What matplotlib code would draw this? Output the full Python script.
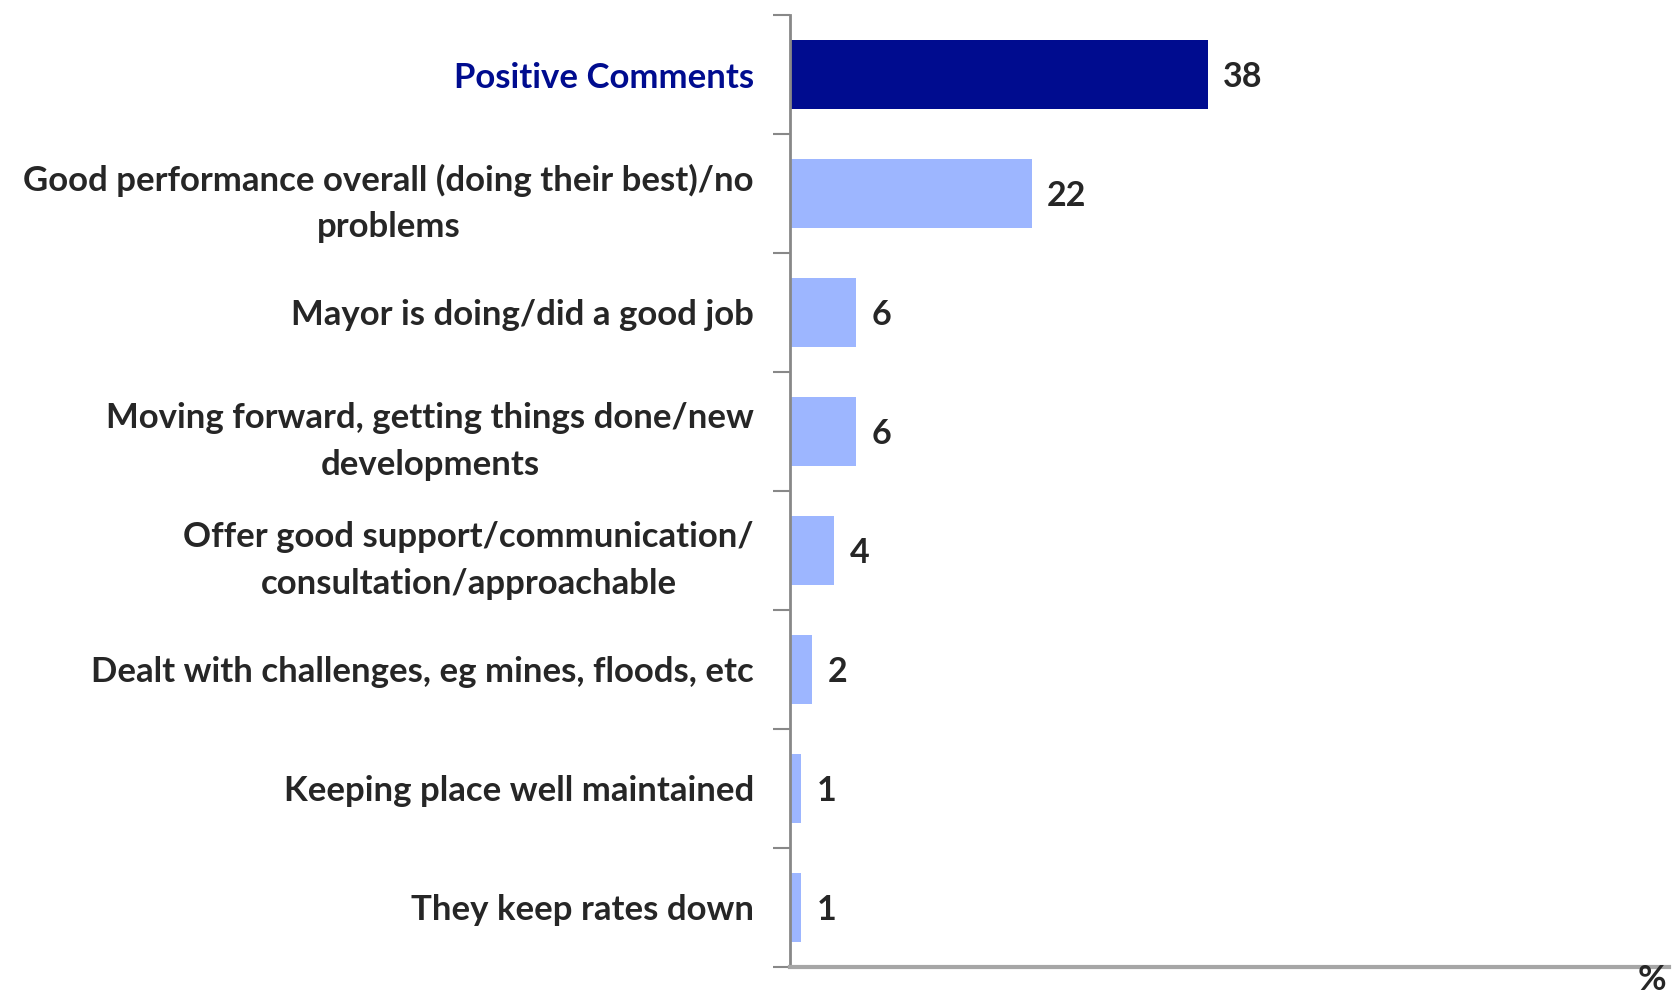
import matplotlib.pyplot as plt
import numpy as np

plt.rcParams["font.family"] = ["Lato", "DejaVu Sans"]
plt.rcParams["font.weight"] = "bold"

categories = [
    "Positive Comments",
    "Good performance overall (doing their best)/no\nproblems",
    "Mayor is doing/did a good job",
    "Moving forward, getting things done/new\ndevelopments",
    "Offer good support/communication/\nconsultation/approachable",
    "Dealt with challenges, eg mines, floods, etc",
    "Keeping place well maintained",
    "They keep rates down",
]
values = [38, 22, 6, 6, 4, 2, 1, 1]

navy = "#000C8F"
light = "#9DB6FF"
text_col = "#262626"
colors = [navy] + [light] * (len(values) - 1)

fig = plt.figure(figsize=(16.78, 10.01), dpi=100)
ax = fig.add_axes([0.4708, 0.034, 0.524, 0.951])

y = np.arange(len(values))
ax.barh(y, values, height=0.58, color=colors, edgecolor="none")

ax.set_xlim(0, 80)
ax.set_ylim(len(values) - 0.5, -0.5)

# value labels at the end of each bar
for yi, v in zip(y, values):
    ax.text(v + 1.4, yi + 0.02, f"{v}", va="center", ha="left",
            fontsize=24.5, fontweight="bold", color=text_col)

# boundary ticks on the y axis, category names on minor ticks
ax.set_yticks(np.arange(-0.5, len(values), 1.0))
ax.set_yticklabels([])
ax.tick_params(axis="y", which="major", length=12, width=1.5, color="#888888", direction="out")
ax.set_yticks(y, minor=True)
ax.set_yticklabels(categories, minor=True, fontsize=25, fontweight="bold",
                   color=text_col, multialignment="center", linespacing=1.55)
ax.tick_params(axis="y", which="minor", length=0, pad=26)
ax.get_yticklabels(minor=True)[0].set_color(navy)

ax.set_xticks([])
for s in ["top", "right"]:
    ax.spines[s].set_visible(False)
ax.spines["left"].set_color("#888888")
ax.spines["left"].set_linewidth(2)
ax.spines["bottom"].set_color("#A6A6A6")
ax.spines["bottom"].set_linewidth(3)

fig.text(0.993, 0.005, "%", ha="right", va="bottom",
         fontsize=25, fontweight="bold", color=text_col)

fig.savefig("out.png", dpi=100)
